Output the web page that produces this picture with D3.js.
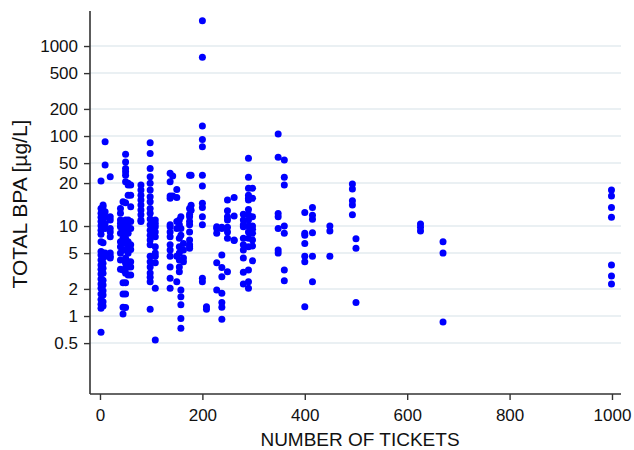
<!DOCTYPE html>
<html><head><meta charset="utf-8">
<script src="https://cdn.jsdelivr.net/npm/d3@7/dist/d3.min.js"></script>
<style>body{margin:0;background:#fff}svg{display:block}</style>
</head><body>
<svg id="chart" width="634" height="450"></svg>
<script>
// ticket counts (x) and the BPA values measured at each count (y)
const ticketLevels = [2, 6, 10, 20, 40, 45, 50, 55, 60, 80, 98, 108, 137, 142, 150, 155, 158, 163, 175, 178, 200, 208, 228, 238, 249, 262, 280, 290, 298, 348, 360, 400, 415, 449, 493, 500, 626, 670, 999];
const bpaValues = [
  [0.66, 1.22, 1.35, 1.53, 1.76, 2.03, 2.27, 2.58, 2.93, 3.3, 3.7, 4.2, 4.76, 5.2, 6.7, 8.1, 9.0, 10.1, 11.2, 12.5, 13.9, 15.7, 31.6],
  [1.29, 1.44, 1.71, 1.91, 2.21, 2.5, 2.98, 3.4, 3.85, 4.4, 5.0, 6.5, 9.5, 10.7, 11.8, 13.2, 16.4, 17.1],
  [86.5, 47.5, 14.4, 12.7, 10.7, 9.4, 5.0, 4.6],
  [35.3, 12.7, 11.7, 9.4, 8.6, 7.6, 5.0, 4.6, 4.4],
  [15.7, 13.9, 11.7, 10.7, 9.8, 8.3, 6.7, 5.9, 5.0, 4.2, 3.3],
  [18.6, 11.2, 9.4, 7.3, 6.7, 5.4, 3.24, 2.34, 1.76, 1.25, 1.05],
  [62.6, 51.6, 43.6, 40, 36.6, 31, 18.1, 11.7, 10.7, 9.4, 8.3, 7.3, 6.4, 5.4, 4.4, 3.85, 3.4, 2.98, 2.34, 1.76, 1.24],
  [29.8, 28.5, 22, 11.7, 9.8, 8.3, 6.7, 5.9, 5.0, 4.0, 3.5, 2.85],
  [28.5, 22, 16.4, 11.2, 9.4, 6.2, 5.5, 4.0, 3.5, 2.85],
  [28.5, 25.1, 22, 19.4, 17.1, 15.1, 13.3, 11.7, 11.2],
  [84, 64, 43.6, 35.3, 29.8, 25.1, 21.2, 18.6, 15.7, 13.9, 12, 10.3, 9.0, 7.9, 7.0, 6.2, 4.6, 4.0, 3.5, 3.0, 2.69, 2.4, 1.19],
  [11.7, 10.7, 9.8, 8.6, 7.6, 5.9, 5.0, 4.6, 3.9, 2.03, 0.54],
  [38.5, 31, 21.6, 20.3, 10.3, 9.8, 8.6, 7.6, 6.2, 5.4, 4.6, 3.5, 2.63, 2.03],
  [36, 21.6],
  [25.5, 20.8, 11.2, 9.4, 4.6, 2.4],
  [11.7, 10.3, 7.3, 5.9, 5.0, 4.2, 3.5, 3.1],
  [12.7, 9.4, 7.9, 1.95, 1.64, 1.33, 0.94, 0.73],
  [6.4, 5.4, 4.4, 4.0],
  [36.6, 15.7, 13.5, 12.7, 11.2, 10.3, 8.6, 7.0, 6.2, 5.9, 5.65],
  [36.6, 17, 15],
  [1910, 748, 129, 91.5, 76, 36.6, 27.8, 17.9, 16.1, 12.7, 10.3, 2.63, 2.4],
  [1.27, 1.19],
  [9.8, 9.4, 8.3, 3.9, 1.95],
  [9.7, 9.4, 4.76, 3.47, 2.73, 1.79, 1.41, 1.25, 0.92],
  [19.4, 14.8, 12.7, 11.7, 9.7, 8.6, 7.3, 3.1],
  [20.8, 12.9, 7.0, 6.9],
  [13.5, 11.7, 10.3, 9.8, 7.3, 6.2, 5.4, 4.4, 3.06, 2.27],
  [56.7, 34.8, 26.3, 22, 20.3, 19.4, 15.3, 13.3, 11.7, 10.0, 8.6, 7.3, 5.9, 3.24, 2.4, 2.03],
  [26.3, 20.3, 12.7, 10.0, 9.2, 8.3, 7.0, 6.0, 4.1],
  [105, 58, 13.8, 12.7, 9.4, 5.4, 5.0],
  [54, 34.8, 28.5, 10.0, 8.3, 3.24, 2.47],
  [14.1, 8.3, 7.9, 6.4, 4.6, 4.0, 1.27],
  [16.1, 13.2, 11.9, 8.4, 4.6, 2.4],
  [10.0, 8.8, 4.6],
  [29.3, 25.8, 19.1, 17.1, 13.3],
  [7.2, 5.65, 1.41],
  [10.5, 9.7, 8.8],
  [6.7, 5.0, 0.86],
  [25.1, 21.6, 16.1, 12.5, 3.7, 2.78, 2.27]
];
const xTickValues = [0, 200, 400, 600, 800, 1000];
const yTickValues = [0.5, 1, 2, 5, 10, 30, 50, 100, 200, 500, 1000];
const yTickLabels = ["0.5", "1", "2", "5", "10", "20", "50", "100", "200", "500", "1000"];
const xTitle = "NUMBER OF TICKETS";
const yTitle = "TOTAL BPA [µg/L]";

const points = [];
ticketLevels.forEach((t, i) => bpaValues[i].forEach(v => points.push({t, v})));

const svg = d3.select("#chart");
const font = "'Liberation Sans', Arial, Helvetica, sans-serif";
const x = d3.scaleLinear().domain([-19.5, 1017.6]).range([90, 621]);
const y = d3.scaleLog().domain([0.136, 2450]).range([394, 11]);

// gridlines
svg.append("g").selectAll("line").data(yTickValues).join("line")
  .attr("x1", x.range()[0]).attr("x2", x.range()[1])
  .attr("y1", d => y(d)).attr("y2", d => y(d))
  .attr("stroke", "#e3ebef").attr("stroke-width", 1.5);

// points
svg.append("g").selectAll("circle").data(points).join("circle")
  .attr("cx", d => x(d.t)).attr("cy", d => y(d.v)).attr("r", 3.5)
  .attr("fill", "#0000ff");

// axes
const xAxis = svg.append("g").attr("transform", `translate(0,${y.range()[0]})`)
  .call(d3.axisBottom(x).tickValues(xTickValues).tickFormat(d3.format("d")).tickSize(6).tickPadding(9));
const yAxis = svg.append("g").attr("transform", `translate(${x.range()[0]},0)`)
  .call(d3.axisLeft(y).tickValues(yTickValues).tickFormat((d, i) => yTickLabels[i]).tickSize(6).tickPadding(6));
[xAxis, yAxis].forEach(a => {
  a.select(".domain").attr("stroke", "#333").attr("stroke-width", 1.6);
  a.selectAll(".tick line").attr("stroke", "#333").attr("stroke-width", 1.4);
  a.selectAll("text").attr("fill", "#111").style("font-family", font).style("font-size", "17px");
});
xAxis.select(".domain").attr("d", `M${x.range()[0]},0H${x.range()[1]}`);
yAxis.select(".domain").attr("d", `M0,${y.range()[0]}V${y.range()[1]}`);

// titles
svg.append("text").attr("x", 360).attr("y", 446).attr("text-anchor", "middle")
  .style("font-family", font).style("font-size", "19px").attr("fill", "#111").text(xTitle);
svg.append("text").attr("transform", "translate(27,204) rotate(-90)").attr("text-anchor", "middle")
  .style("font-family", font).style("font-size", "21px").attr("fill", "#111").text(yTitle);
</script>
</body></html>
